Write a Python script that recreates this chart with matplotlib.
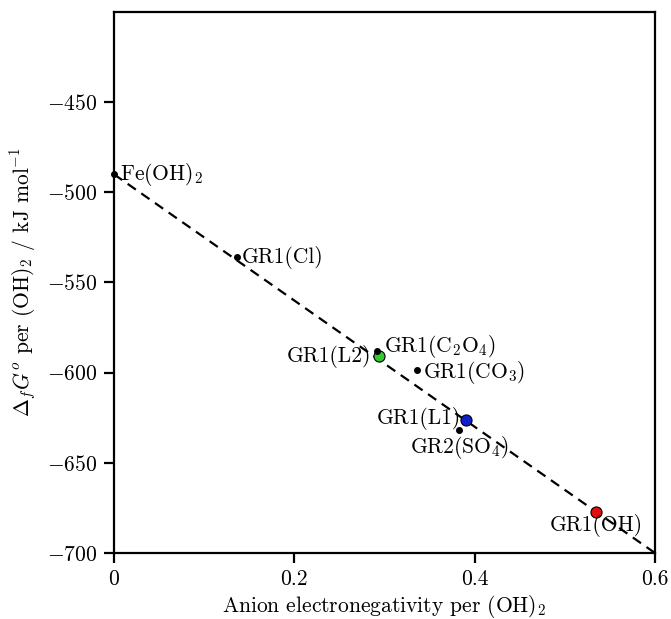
import numpy as np
import matplotlib
matplotlib.use("Agg")
import matplotlib.pyplot as plt
from matplotlib.ticker import FuncFormatter

plt.rcParams['font.family'] = 'serif'
plt.rcParams['font.serif'] = ['cmr10']
plt.rcParams['mathtext.fontset'] = 'cm'
plt.rcParams['axes.formatter.use_mathtext'] = True
FS = 15.5

# data
names = ["Fe(OH)$_2$", "GR1(Cl)", "GR1(C$_2$O$_4$)", "GR1(CO$_3$)", "GR2(SO$_4$)"]
x_black = [0.0, 0.136, 0.292, 0.336, 0.383]
y_black = [-490, -536, -588, -598.5, -632]

names_col = ["GR1(L2)", "GR1(L1)", "GR1(OH)"]
x_col = [0.294, 0.390, 0.535]
y_col = [-591, -626, -677]
cols = ["#2ecc2e", "#1020c8", "#e01010"]

fit_x = [0.0, 0.6]
fit_y = [-490, -700]

# label offsets (points) and alignment
off_black = [(4, 0, "left"), (4, 0, "left"), (5, 3, "left"), (4, -2, "left"), (0, -12, "center")]
off_col = [(-6, 0, "right"), (-3, 1, "right"), (0, -10, "center")]

fig = plt.figure(figsize=(6.71, 6.19), dpi=100)
ax = fig.add_axes([114 / 671, 1 - 553 / 619, 541 / 671, 541 / 619])

ax.plot(fit_x, fit_y, "k--", lw=1.6, dashes=(4.5, 3), zorder=1)

ax.plot(x_black, y_black, "o", color="k", ms=4, zorder=3, clip_on=False)
for i in range(len(names)):
    dx, dy, ha = off_black[i]
    ax.annotate(names[i], (x_black[i], y_black[i]), xytext=(dx, dy),
                textcoords="offset points", ha=ha, va="center", fontsize=FS)

for i in range(len(names_col)):
    ax.plot(x_col[i], y_col[i], "o", color=cols[i], mec="k", mew=0.8, ms=8, zorder=2)
    dx, dy, ha = off_col[i]
    ax.annotate(names_col[i], (x_col[i], y_col[i]), xytext=(dx, dy),
                textcoords="offset points", ha=ha, va="center", fontsize=FS)

ax.set_xlim(0, 0.6)
ax.set_ylim(-700, -400)
ax.set_xticks([0, 0.2, 0.4, 0.6])
ax.set_yticks([-700, -650, -600, -550, -500, -450])
ax.xaxis.set_major_formatter(FuncFormatter(lambda v, p: "0" if v == 0 else f"{v:.1f}"))
ax.yaxis.set_major_formatter(FuncFormatter(lambda v, p: f"$-${abs(int(v))}"))
ax.tick_params(direction="out", length=7, width=1.6, labelsize=FS, pad=5)
for s in ax.spines.values():
    s.set_linewidth(1.6)

ax.set_xlabel("Anion electronegativity per (OH)$_2$", fontsize=FS, labelpad=3)
ax.set_ylabel(r"$\Delta_f G^o$ per (OH)$_2$ / kJ mol$^{-1}$", fontsize=FS, labelpad=6)

fig.savefig("out.png", dpi=100)
